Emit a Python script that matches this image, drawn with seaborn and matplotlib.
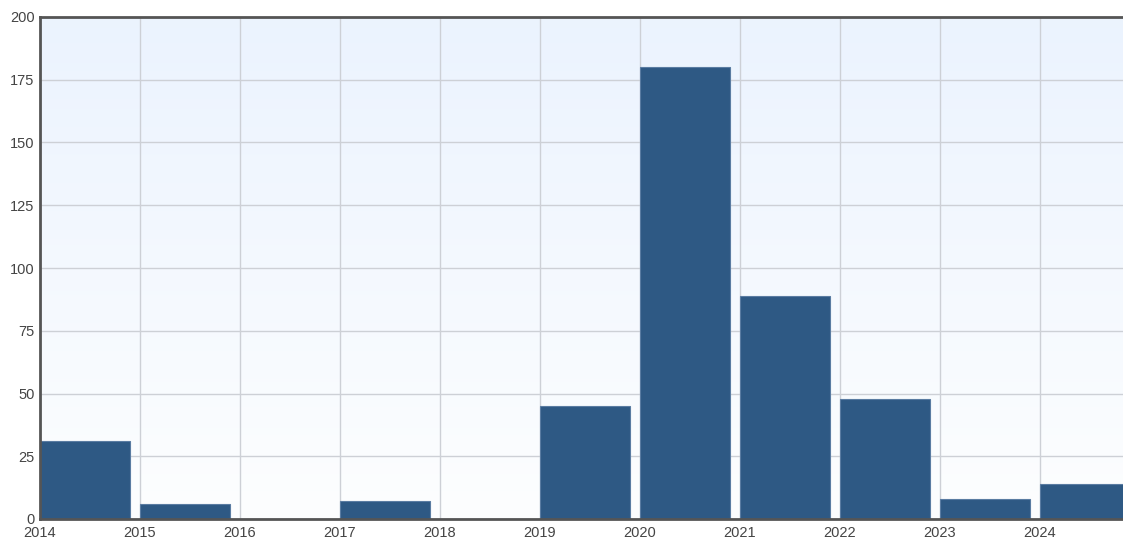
import numpy as np
import pandas as pd
import seaborn as sns
import matplotlib.pyplot as plt

years = [2014, 2015, 2016, 2017, 2018, 2019, 2020, 2021, 2022, 2023, 2024]
counts = [31, 6, 0, 7, 0, 45, 180, 89, 48, 8, 14]
y_ticks = [0, 25, 50, 75, 100, 125, 150, 175, 200]

df = pd.DataFrame({'year': years, 'count': counts})
# bars start at the year and span 0.9 of it
df['mid'] = df['year'] + 0.45

sns.set_style('white')
plt.rcParams['font.family'] = ['Liberation Sans', 'DejaVu Sans']

fig = plt.figure(figsize=(11.23, 5.44), dpi=100)
ax = fig.add_axes([40 / 1123, 25 / 544, 1083 / 1123, 502 / 544])

# vertical gradient background
grad = np.linspace(0, 1, 256).reshape(-1, 1)
top = np.array([0.922, 0.953, 0.996])
bottom = np.array([0.992, 0.996, 1.0])
img = top * (1 - grad[..., None]) + bottom * grad[..., None]
ax.imshow(img, extent=[2014, 2024.83, 0, 200], aspect='auto', zorder=0,
          origin='upper')

sns.barplot(data=df, x='mid', y='count', native_scale=True, width=0.9,
            color='#2e5984', saturation=1,
            edgecolor='#5a7ca2', linewidth=0.8, ax=ax, zorder=3)

ax.set_xlim(2014, 2024.83)
ax.set_ylim(0, 200)
ax.set_xticks(years)
ax.set_xticklabels([str(y) for y in years])
ax.set_yticks(y_ticks)
ax.grid(True, color='#cdd0d6', linewidth=1, zorder=1)
ax.set_axisbelow(True)
ax.tick_params(axis='both', length=0, labelsize=10.5, labelcolor='#444444')
ax.tick_params(axis='x', pad=5)
ax.tick_params(axis='y', pad=4)
ax.set_xlabel('')
ax.set_ylabel('')

for side in ['top', 'left', 'bottom']:
    ax.spines[side].set_visible(True)
    ax.spines[side].set_color('#555555')
    ax.spines[side].set_linewidth(2)
    ax.spines[side].set_zorder(5)
ax.spines['right'].set_visible(False)

fig.savefig('out.png', dpi=100)
